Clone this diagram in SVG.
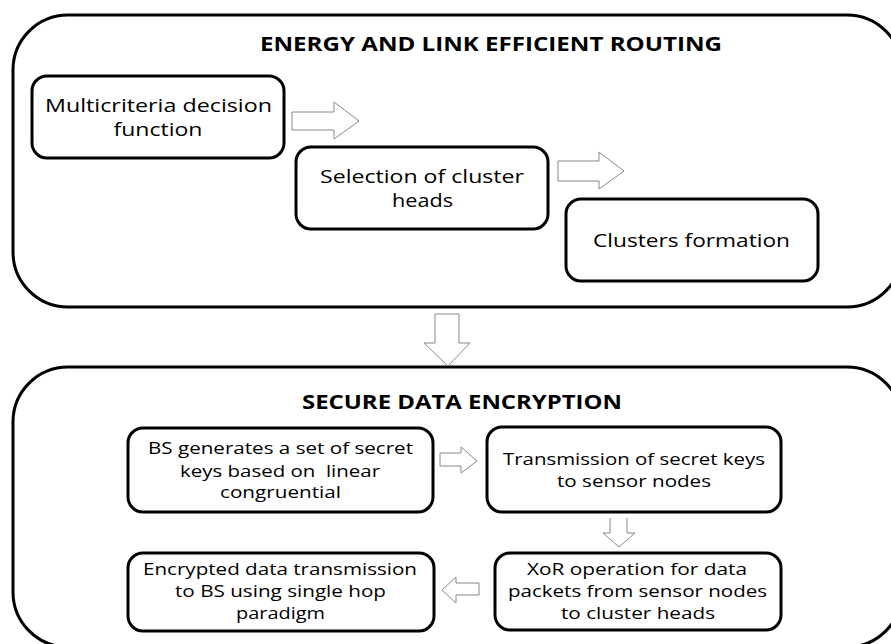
<svg xmlns="http://www.w3.org/2000/svg" width="891" height="644" viewBox="0 0 891 644">
<style>
.container{fill:#fff;stroke:#000;stroke-width:3}
.box{fill:#fff;stroke:#000;stroke-width:3}
.arrow{fill:#fff;stroke:#888;stroke-width:1}
.title{font-family:"Open Sans","Liberation Sans",sans-serif;font-weight:bold;font-size:20px;fill:#000}
.t1{font-family:"Open Sans","Liberation Sans",sans-serif;font-size:18.5px;fill:#000;text-anchor:middle}
.t2{font-family:"Open Sans","Liberation Sans",sans-serif;font-size:16.5px;fill:#000;text-anchor:middle}
</style>
<rect width="891" height="644" fill="#fff"/>
<g id="energy-routing">
<rect class="container" x="13" y="15" width="889" height="292" rx="55" ry="55"/>
<text class="title" x="260" y="51" textLength="462" lengthAdjust="spacingAndGlyphs">ENERGY AND LINK EFFICIENT ROUTING</text>
</g>
<g id="secure-encryption">
<rect class="container" x="13" y="367" width="889" height="280" rx="55" ry="55"/>
<text class="title" x="302" y="409" textLength="320" lengthAdjust="spacingAndGlyphs">SECURE DATA ENCRYPTION</text>
</g>
<g id="multicriteria">
<rect class="box" x="32" y="76" width="252" height="82" rx="15" ry="15"/>
<text class="t1"><tspan x="158.5" y="112" textLength="227" lengthAdjust="spacingAndGlyphs">Multicriteria decision</tspan><tspan x="158" y="136" textLength="89" lengthAdjust="spacingAndGlyphs">function</tspan></text>
</g>
<g id="selection">
<rect class="box" x="296" y="147" width="252" height="82" rx="15" ry="15"/>
<text class="t1"><tspan x="422" y="183" textLength="204" lengthAdjust="spacingAndGlyphs">Selection of cluster</tspan><tspan x="422.5" y="207" textLength="61" lengthAdjust="spacingAndGlyphs">heads</tspan></text>
</g>
<g id="clusters">
<rect class="box" x="566" y="199" width="252" height="82" rx="15" ry="15"/>
<text class="t1" x="691.5" y="247" textLength="197" lengthAdjust="spacingAndGlyphs">Clusters formation</text>
</g>
<g id="bs-generates">
<rect class="box" x="128" y="428" width="305" height="84" rx="15" ry="15"/>
<text class="t2"><tspan x="280.5" y="454" textLength="265" lengthAdjust="spacingAndGlyphs">BS generates a set of secret</tspan><tspan x="280" y="477" textLength="200" lengthAdjust="spacingAndGlyphs">keys based on&#160; linear</tspan><tspan x="280.5" y="498" textLength="121" lengthAdjust="spacingAndGlyphs">congruential</tspan></text>
</g>
<g id="transmission">
<rect class="box" x="487" y="427" width="294" height="85" rx="15" ry="15"/>
<text class="t2"><tspan x="634" y="465" textLength="262" lengthAdjust="spacingAndGlyphs">Transmission of secret keys</tspan><tspan x="634" y="487" textLength="154" lengthAdjust="spacingAndGlyphs">to sensor nodes</tspan></text>
</g>
<g id="xor">
<rect class="box" x="495" y="553" width="286" height="77" rx="15" ry="15"/>
<text class="t2"><tspan x="637" y="575" textLength="220" lengthAdjust="spacingAndGlyphs">XoR operation for data</tspan><tspan x="637.5" y="597" textLength="259" lengthAdjust="spacingAndGlyphs">packets from sensor nodes</tspan><tspan x="638" y="619" textLength="154" lengthAdjust="spacingAndGlyphs">to cluster heads</tspan></text>
</g>
<g id="encrypted">
<rect class="box" x="128" y="553" width="306" height="78" rx="15" ry="15"/>
<text class="t2"><tspan x="280" y="575" textLength="274" lengthAdjust="spacingAndGlyphs">Encrypted data transmission</tspan><tspan x="280.5" y="597" textLength="211" lengthAdjust="spacingAndGlyphs">to BS using single hop</tspan><tspan x="280.5" y="619" textLength="89" lengthAdjust="spacingAndGlyphs">paradigm</tspan></text>
</g>
<g id="connectors">
<polygon class="arrow" points="292,112 334,112 334,102 359,121 334,139 334,130 292,130"/>
<polygon class="arrow" points="558,161 599,161 599,152 624,171 599,189 599,181 558,181"/>
<polygon class="arrow" points="435,314 459,314 459,343 470,343 448,366 424,343 435,343"/>
<polygon class="arrow" points="440,453 461,453 461,447 477,461 461,473 461,466 440,466"/>
<path class="arrow" d="M610,518 L610,533 L603,533 L619,547 L635,533 L627,533 L627,518"/>
<polygon class="arrow" points="479,583 456,583 456,577 442,590 456,603 456,595 479,595"/>
</g>
</svg>
